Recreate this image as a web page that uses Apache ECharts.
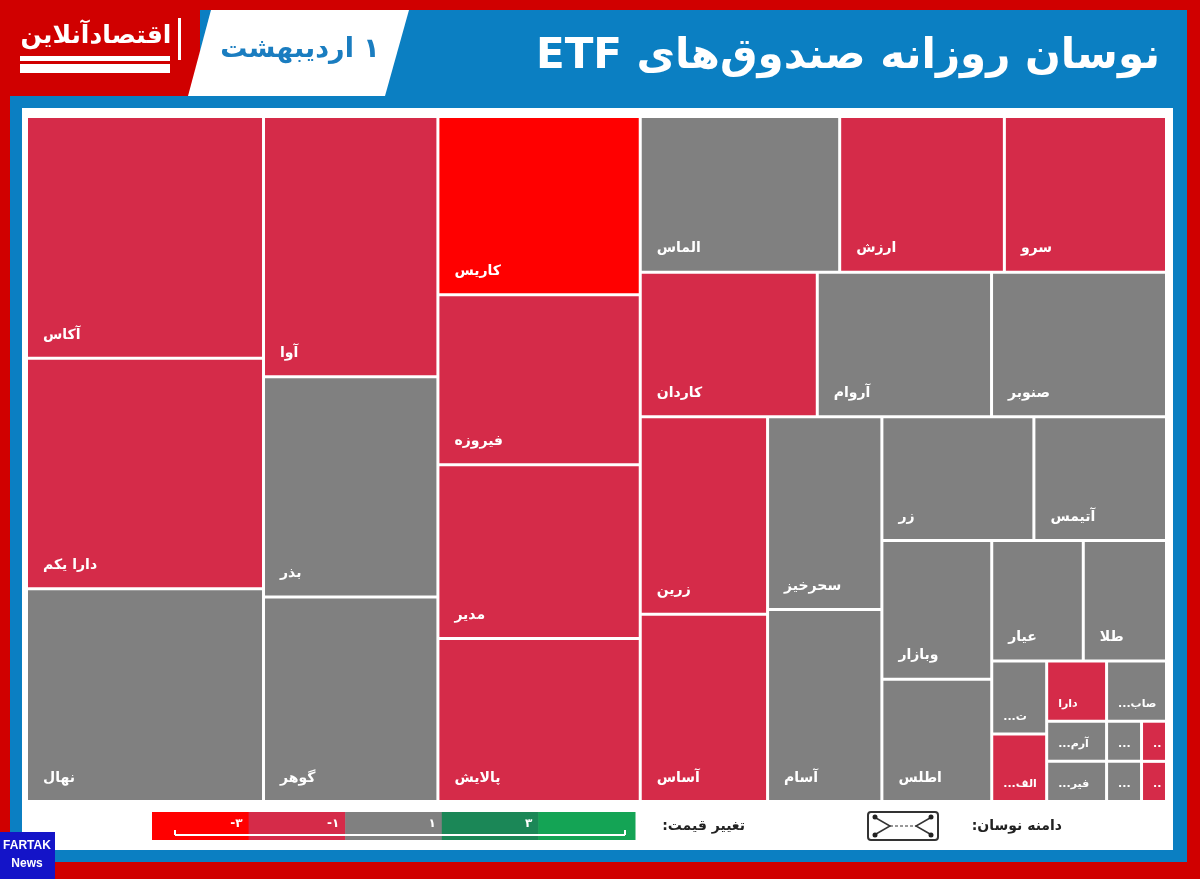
<!DOCTYPE html>
<html>
<head>
<meta charset="utf-8">
<script src="https://cdn.jsdelivr.net/npm/echarts@6/dist/echarts.min.js"></script>
<style>
html,body{margin:0;padding:0;background:#D00000;}
#chart{width:1200px;height:879px;}
</style>
</head>
<body>
<div id="chart" dir="rtl"></div>
<script>
// ---- data ----
const leafNames = ['آکاس','دارا یکم','نهال','آوا','بذر','گوهر','کاریس','فیروزه','مدیر','پالایش',
  'الماس','ارزش','سرو','کاردان','آروام','صنوبر','زرین','آساس','سحرخیز','آسام',
  'زر','آتیمس','وبازار','اطلس','عیار','طلا','ت...','الف...','دارا','صاب...',
  'آرم...','فیر...','...','...','...','...'];
const leafSizes = [572,545,503, 453,383,356, 360,343,351,329,
  310,256,252, 255,251,252, 251,238, 220,219,
  188,164, 152,134, 110,100, 40,37, 36,36,
  24,24, 14,10, 14,10];
const leafChanges = [-1.6,-1.4,-0.3, -1.5,-0.2,-0.5, -3.4,-1.8,-1.3,-1.7,
  -0.6,-1.2,-1.1, -1.9,-0.4,-0.7, -1.5,-1.6, -0.5,-0.3,
  0.1,-0.2, -0.6,-0.4, 0.2,0.1, -0.3,-1.2, -1.3,-0.5,
  -0.2,-0.1, -0.4,-1.1, -0.2,-1.4];
const leafBlocks = ['a','a','a','b','b','b','c','c','c','c',
  'd.1','d.1','d.1','d.2','d.2','d.2','d.3','d.3','d.4','d.4',
  'd.5','d.5','d.6','d.6','d.7','d.7','d.8','d.8','d.9','d.9',
  'd.10','d.10','d.11','d.11','d.12','d.12'];

const legendColors = ['#FF0000','#D52B49','#808080','#1B8757','#14A455'];
const legendTicks = ['۳-','۱-','۱','۳'];
const legendThresholds = [-3,-1,1,3];

const titleText = 'نوسان روزانه صندوق‌های ETF';
const dateText = '۱ اردیبهشت';
const FONT = '"DejaVu Sans"';

function colorOf(c){
  let i = 0;
  while (i < legendThresholds.length && c > legendThresholds[i]) i++;
  return legendColors[i];
}

// build hierarchy
const root = [];
const nodeMap = {};
leafNames.forEach((n, i) => {
  const parts = leafBlocks[i].split('.');
  let children = root;
  let key = '';
  parts.forEach(p => {
    key = key ? key + '.' + p : p;
    if (!nodeMap[key]) {
      nodeMap[key] = {name: 'g' + key, children: []};
      children.push(nodeMap[key]);
    }
    children = nodeMap[key].children;
  });
  const small = leafSizes[i] < 60;
  children.push({
    name: n,
    value: leafSizes[i],
    change: leafChanges[i],
    itemStyle: {color: colorOf(leafChanges[i])},
    label: small ? {fontSize: 11, distance: 5} : {}
  });
});

// legend graphics
const lgX = 152, lgY = 812, lgW = 483, lgH = 28;
const segW = lgW / legendColors.length;
const legendGraphics = [];
legendColors.forEach((c, i) => {
  legendGraphics.push({type:'rect', shape:{x: lgX + i*segW, y: lgY, width: segW + 0.5, height: lgH}, style:{fill: c}});
});
legendTicks.forEach((t, i) => {
  const bx = lgX + (i+1)*segW;
  legendGraphics.push({type:'text', style:{text: t, x: bx - 6, y: lgY + 12, align:'right', verticalAlign:'middle',
    fill:'#fff', font:'bold 12px ' + FONT}});
});
legendGraphics.push({type:'line', shape:{x1: 175, y1: 835, x2: 625, y2: 835}, style:{stroke:'#fff', lineWidth: 2}});
legendGraphics.push({type:'line', shape:{x1: 175, y1: 830, x2: 175, y2: 835}, style:{stroke:'#fff', lineWidth: 2}});
legendGraphics.push({type:'line', shape:{x1: 625, y1: 830, x2: 625, y2: 835}, style:{stroke:'#fff', lineWidth: 2}});

const chart = echarts.init(document.getElementById('chart'));
chart.setOption({
  backgroundColor: '#D00000',
  animation: false,
  graphic: [
    {type:'rect', z:0, shape:{x:10, y:10, width:1177, height:852}, style:{fill:'#0B7FC2'}},
    {type:'rect', z:0, shape:{x:0, y:0, width:200, height:96}, style:{fill:'#D00000'}},
    {type:'polygon', z:0, shape:{points:[[211,10],[409,10],[385,96],[188,96]]}, style:{fill:'#fff'}},
    {type:'rect', z:0, shape:{x:22, y:108, width:1151, height:742}, style:{fill:'#fff'}},
    {type:'text', z:1, style:{text: titleText, x:1160, y:57, align:'right', verticalAlign:'middle', fill:'#fff', font:'bold 42px ' + FONT}},
    {type:'text', z:1, style:{text: dateText, x:300, y:50, align:'center', verticalAlign:'middle', fill:'#1A7DC0', font:'bold 27px ' + FONT}},
    {type:'text', z:1, style:{text: 'اقتصادآنلاین', x:96, y:36, align:'center', verticalAlign:'middle', fill:'#fff', font:'bold 25px ' + FONT}},
    {type:'rect', z:1, shape:{x:20, y:56, width:150, height:5}, style:{fill:'#fff'}},
    {type:'rect', z:1, shape:{x:20, y:64, width:150, height:9}, style:{fill:'#fff'}},
    {type:'rect', z:1, shape:{x:178, y:18, width:3, height:42}, style:{fill:'#fff'}},
    // legend labels
    {type:'text', z:1, style:{text:'تغییر قیمت:', x:745, y:826, align:'right', verticalAlign:'middle', fill:'#222', font:'bold 14px ' + FONT}},
    {type:'text', z:1, style:{text:'دامنه نوسان:', x:1062, y:826, align:'right', verticalAlign:'middle', fill:'#222', font:'bold 14px ' + FONT}},
    {type:'rect', z:1, shape:{x:868, y:812, width:70, height:28, r:3}, style:{fill:'#fff', stroke:'#333', lineWidth:2}},
    {type:'polyline', z:1, shape:{points:[[876,818],[890,826],[876,834]]}, style:{stroke:'#333', lineWidth:1.5, fill:null}},
    {type:'polyline', z:1, shape:{points:[[930,818],[916,826],[930,834]]}, style:{stroke:'#333', lineWidth:1.5, fill:null}},
    {type:'line', z:1, shape:{x1:890, y1:826, x2:916, y2:826}, style:{stroke:'#333', lineWidth:1, lineDash:[3,2]}},
    {type:'circle', z:1, shape:{cx:875, cy:817, r:2.5}, style:{fill:'#222'}},
    {type:'circle', z:1, shape:{cx:931, cy:817, r:2.5}, style:{fill:'#222'}},
    {type:'circle', z:1, shape:{cx:875, cy:835, r:2.5}, style:{fill:'#222'}},
    {type:'circle', z:1, shape:{cx:931, cy:835, r:2.5}, style:{fill:'#222'}},
    // watermark badge
    {type:'rect', z:5, shape:{x:0, y:832, width:55, height:47}, style:{fill:'#1414C8'}},
    {type:'text', z:6, style:{text:'FARTAK', x:27, y:846, align:'center', verticalAlign:'middle', fill:'#fff', font:'bold 12px "Liberation Sans Narrow", "Liberation Sans"'}},
    {type:'text', z:6, style:{text:'News', x:27, y:864, align:'center', verticalAlign:'middle', fill:'#fff', font:'bold 12px "Liberation Sans Narrow", "Liberation Sans"'}}
  ].concat(legendGraphics.map(g => Object.assign({z:1}, g))),
  series: [{
    type: 'treemap',
    left: 28, top: 118, width: 1137, height: 682,
    roam: false,
    nodeClick: false,
    sort: false,
    squareRatio: 1e-6,
    visibleMin: 0,
    breadcrumb: {show: false},
    itemStyle: {gapWidth: 3, borderWidth: 0, borderColor: '#fff'},
    upperLabel: {show: false},
    label: {
      show: true, position: 'insideBottomLeft', distance: 10,
      color: '#fff', fontSize: 14, fontWeight: 'bold', fontFamily: 'DejaVu Sans',
      formatter: '{b}'
    },
    emphasis: {disabled: true},
    data: root
  }]
});
</script>
</body>
</html>
